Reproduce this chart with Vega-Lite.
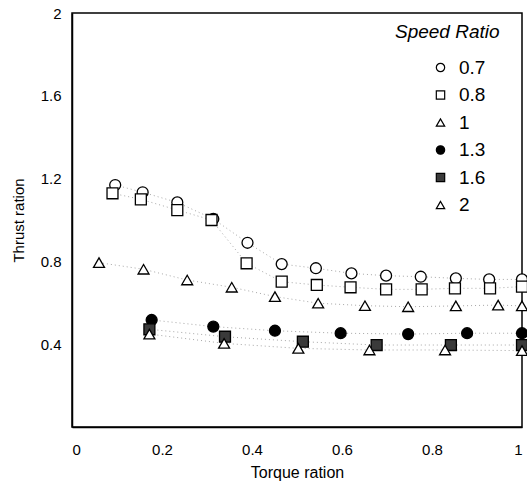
{
  "$schema": "https://vega.github.io/schema/vega-lite/v6.json",
  "width": 450,
  "height": 414,
  "padding": {"left": 72, "top": 13, "right": 5, "bottom": 65},
  "autosize": {"type": "none"},
  "background": "white",
  "config": {
    "font": "Liberation Sans",
    "view": {"stroke": "black", "strokeWidth": 1.5},
    "axis": {"grid": false, "ticks": false, "domainColor": "black", "domainWidth": 1.5, "labelColor": "black", "titleColor": "black", "labelFontSize": 15, "titleFontSize": 16, "titleFontWeight": "normal", "format": "~g"}
  },
  "data": {"values": [
    {"series": "0.7", "x": 0.096, "y": 1.169},
    {"series": "0.7", "x": 0.157, "y": 1.134},
    {"series": "0.7", "x": 0.234, "y": 1.085},
    {"series": "0.7", "x": 0.314, "y": 1.005},
    {"series": "0.7", "x": 0.390, "y": 0.890},
    {"series": "0.7", "x": 0.466, "y": 0.787},
    {"series": "0.7", "x": 0.542, "y": 0.767},
    {"series": "0.7", "x": 0.621, "y": 0.742},
    {"series": "0.7", "x": 0.698, "y": 0.731},
    {"series": "0.7", "x": 0.775, "y": 0.726},
    {"series": "0.7", "x": 0.853, "y": 0.718},
    {"series": "0.7", "x": 0.927, "y": 0.713},
    {"series": "0.7", "x": 1.0, "y": 0.713},
    {"series": "0.8", "x": 0.090, "y": 1.129},
    {"series": "0.8", "x": 0.153, "y": 1.100},
    {"series": "0.8", "x": 0.234, "y": 1.048},
    {"series": "0.8", "x": 0.310, "y": 1.000},
    {"series": "0.8", "x": 0.388, "y": 0.791},
    {"series": "0.8", "x": 0.466, "y": 0.702},
    {"series": "0.8", "x": 0.544, "y": 0.686},
    {"series": "0.8", "x": 0.619, "y": 0.675},
    {"series": "0.8", "x": 0.698, "y": 0.665},
    {"series": "0.8", "x": 0.777, "y": 0.665},
    {"series": "0.8", "x": 0.851, "y": 0.670},
    {"series": "0.8", "x": 0.929, "y": 0.670},
    {"series": "0.8", "x": 1.0, "y": 0.678},
    {"series": "1", "x": 0.060, "y": 0.794},
    {"series": "1", "x": 0.159, "y": 0.762},
    {"series": "1", "x": 0.256, "y": 0.710},
    {"series": "1", "x": 0.355, "y": 0.675},
    {"series": "1", "x": 0.451, "y": 0.630},
    {"series": "1", "x": 0.547, "y": 0.598},
    {"series": "1", "x": 0.651, "y": 0.586},
    {"series": "1", "x": 0.747, "y": 0.581},
    {"series": "1", "x": 0.853, "y": 0.585},
    {"series": "1", "x": 0.947, "y": 0.589},
    {"series": "1", "x": 1.0, "y": 0.585},
    {"series": "1.3", "x": 0.177, "y": 0.517},
    {"series": "1.3", "x": 0.314, "y": 0.485},
    {"series": "1.3", "x": 0.451, "y": 0.465},
    {"series": "1.3", "x": 0.597, "y": 0.453},
    {"series": "1.3", "x": 0.747, "y": 0.449},
    {"series": "1.3", "x": 0.878, "y": 0.453},
    {"series": "1.3", "x": 1.0, "y": 0.453},
    {"series": "1.6", "x": 0.172, "y": 0.472},
    {"series": "1.6", "x": 0.340, "y": 0.436},
    {"series": "1.6", "x": 0.513, "y": 0.412},
    {"series": "1.6", "x": 0.677, "y": 0.396},
    {"series": "1.6", "x": 0.842, "y": 0.396},
    {"series": "1.6", "x": 1.0, "y": 0.396},
    {"series": "2", "x": 0.172, "y": 0.449},
    {"series": "2", "x": 0.338, "y": 0.404},
    {"series": "2", "x": 0.503, "y": 0.380},
    {"series": "2", "x": 0.661, "y": 0.372},
    {"series": "2", "x": 0.829, "y": 0.372},
    {"series": "2", "x": 1.0, "y": 0.369}
  ]},
  "encoding": {
    "x": {"field": "x", "type": "quantitative", "scale": {"domain": [0, 1], "nice": false}, "axis": {"values": [0, 0.2, 0.4, 0.6, 0.8, 1], "title": "Torque ration", "labelPadding": 15, "titlePadding": 7}},
    "y": {"field": "y", "type": "quantitative", "scale": {"domain": [0, 2], "nice": false}, "axis": {"values": [0.4, 0.8, 1.2, 1.6, 2], "title": "Thrust ration", "titleFontSize": 15, "labelPadding": 11, "titlePadding": 14}}
  },
  "layer": [
    {
      "mark": {"type": "line", "stroke": "#a8a8a8", "strokeWidth": 1, "strokeDash": [1, 3]},
      "encoding": {"detail": {"field": "series"}}
    },
    {
      "mark": {"type": "point", "filled": true, "stroke": "black", "strokeWidth": 1.3, "size": 120, "opacity": 1},
      "encoding": {
        "shape": {"field": "series", "type": "nominal", "title": "Speed Ratio",
          "scale": {"domain": ["0.7", "0.8", "1", "1.3", "1.6", "2"], "range": ["circle", "square", "triangle-up", "circle", "square", "triangle-up"]}},
        "fill": {"field": "series", "type": "nominal", "title": "Speed Ratio",
          "scale": {"domain": ["0.7", "0.8", "1", "1.3", "1.6", "2"], "range": ["white", "white", "white", "black", "#3a3a3a", "white"]},
          "legend": {"orient": "none", "legendX": 323, "legendY": 10, "titleFontSize": 19, "titleFontStyle": "italic", "titleFontWeight": "normal", "titleColor": "black", "titlePadding": 16, "labelFontSize": 19, "labelColor": "black", "symbolOffset": 36, "symbolSize": 70, "symbolStrokeColor": "black", "symbolStrokeWidth": 1.2, "rowPadding": 7.5, "labelOffset": 9}}
      }
    }
  ]
}
